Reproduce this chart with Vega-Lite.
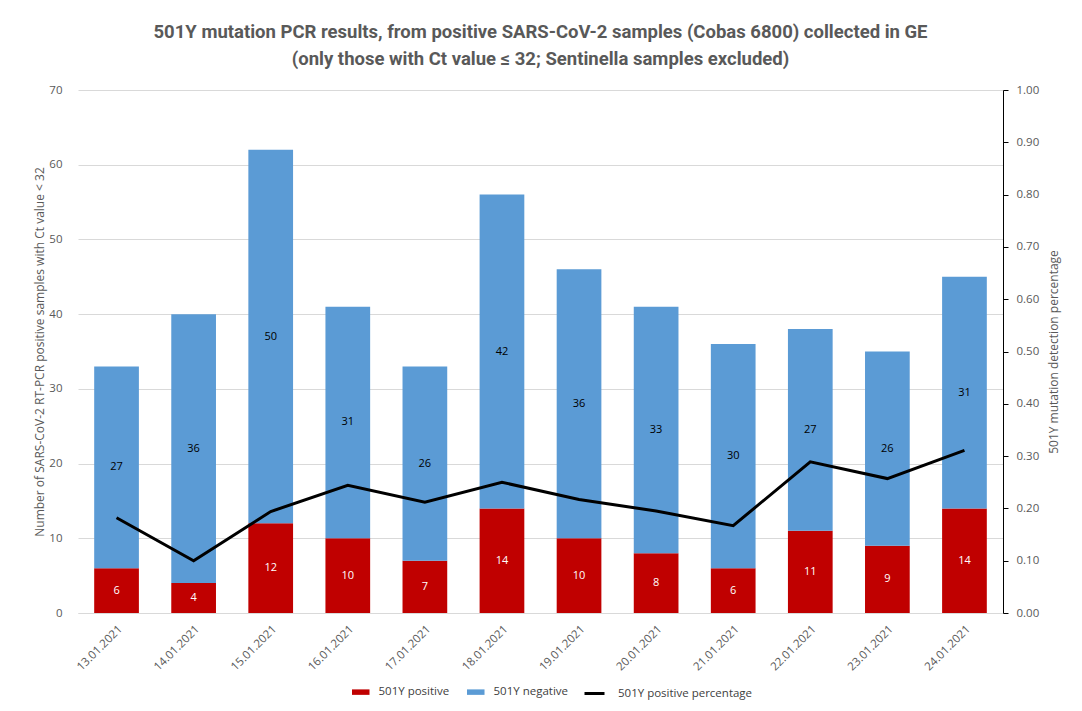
{
  "$schema": "https://vega.github.io/schema/vega-lite/v6.json",
  "width": 925,
  "height": 523,
  "autosize": {"type": "none"},
  "padding": {"left": 78, "top": 90, "right": 79, "bottom": 98},
  "background": "white",
  "config": {
    "font": "Open Sans",
    "view": {"stroke": null},
    "axis": {"labelColor": "#595959", "titleColor": "#595959", "labelFontSize": 11.5, "titleFontSize": 12, "titleFontWeight": "normal", "gridColor": "#d9d9d9"},
    "legend": {"labelColor": "#404040", "labelFontSize": 11.5}
  },
  "title": {
    "text": ["501Y mutation PCR results, from positive SARS-CoV-2 samples (Cobas 6800) collected in GE", "(only those with Ct value ≤ 32; Sentinella samples excluded)"],
    "font": "Roboto",
    "fontSize": 18.5,
    "fontWeight": "bold",
    "color": "#595959",
    "lineHeight": 27,
    "offset": 16,
    "anchor": "middle"
  },
  "datasets": {
    "bars": [
      {"date": "13.01.2021", "type": "501Y positive", "count": 6},
      {"date": "13.01.2021", "type": "501Y negative", "count": 27},
      {"date": "14.01.2021", "type": "501Y positive", "count": 4},
      {"date": "14.01.2021", "type": "501Y negative", "count": 36},
      {"date": "15.01.2021", "type": "501Y positive", "count": 12},
      {"date": "15.01.2021", "type": "501Y negative", "count": 50},
      {"date": "16.01.2021", "type": "501Y positive", "count": 10},
      {"date": "16.01.2021", "type": "501Y negative", "count": 31},
      {"date": "17.01.2021", "type": "501Y positive", "count": 7},
      {"date": "17.01.2021", "type": "501Y negative", "count": 26},
      {"date": "18.01.2021", "type": "501Y positive", "count": 14},
      {"date": "18.01.2021", "type": "501Y negative", "count": 42},
      {"date": "19.01.2021", "type": "501Y positive", "count": 10},
      {"date": "19.01.2021", "type": "501Y negative", "count": 36},
      {"date": "20.01.2021", "type": "501Y positive", "count": 8},
      {"date": "20.01.2021", "type": "501Y negative", "count": 33},
      {"date": "21.01.2021", "type": "501Y positive", "count": 6},
      {"date": "21.01.2021", "type": "501Y negative", "count": 30},
      {"date": "22.01.2021", "type": "501Y positive", "count": 11},
      {"date": "22.01.2021", "type": "501Y negative", "count": 27},
      {"date": "23.01.2021", "type": "501Y positive", "count": 9},
      {"date": "23.01.2021", "type": "501Y negative", "count": 26},
      {"date": "24.01.2021", "type": "501Y positive", "count": 14},
      {"date": "24.01.2021", "type": "501Y negative", "count": 31}
    ],
    "pct": [
      {"date": "13.01.2021", "pct": 0.182},
      {"date": "14.01.2021", "pct": 0.100},
      {"date": "15.01.2021", "pct": 0.194},
      {"date": "16.01.2021", "pct": 0.244},
      {"date": "17.01.2021", "pct": 0.212},
      {"date": "18.01.2021", "pct": 0.250},
      {"date": "19.01.2021", "pct": 0.217},
      {"date": "20.01.2021", "pct": 0.195},
      {"date": "21.01.2021", "pct": 0.167},
      {"date": "22.01.2021", "pct": 0.289},
      {"date": "23.01.2021", "pct": 0.257},
      {"date": "24.01.2021", "pct": 0.311}
    ]
  },
  "encoding": {
    "x": {
      "field": "date",
      "type": "nominal",
      "scale": {
        "domain": ["13.01.2021", "14.01.2021", "15.01.2021", "16.01.2021", "17.01.2021", "18.01.2021", "19.01.2021", "20.01.2021", "21.01.2021", "22.01.2021", "23.01.2021", "24.01.2021"],
        "paddingInner": 0.42,
        "paddingOuter": 0.21
      },
      "axis": {"title": null, "labelAngle": -45, "labelAlign": "right", "labelBaseline": "top", "ticks": false, "domainColor": "#d9d9d9", "labelPadding": 10}
    }
  },
  "layer": [
    {
      "data": {"name": "bars"},
      "transform": [
        {"stack": "count", "groupby": ["date"], "sort": [{"field": "type", "order": "descending"}], "as": ["y0", "y1"]},
        {"calculate": "(datum.y0 + datum.y1) / 2", "as": "mid"}
      ],
      "layer": [
        {
          "mark": {"type": "bar"},
          "encoding": {
            "y": {"field": "y0", "type": "quantitative", "scale": {"domain": [0, 70]},
              "axis": {"title": "Number of SARS-CoV-2 RT-PCR positive samples with Ct value < 32", "values": [0, 10, 20, 30, 40, 50, 60, 70], "domain": false, "ticks": false, "labelPadding": 16, "titlePadding": 2}},
            "y2": {"field": "y1"},
            "color": {"field": "type", "type": "nominal",
              "scale": {"domain": ["501Y positive", "501Y negative"], "range": ["#C00000", "#5B9BD5"]},
              "legend": {"title": null, "orient": "none", "legendX": 277, "legendY": 596, "direction": "horizontal", "symbolType": "M-1.6,-0.5H1.6V0.5H-1.6Z", "symbolSize": 120, "symbolStrokeWidth": 0, "columnPadding": 16, "labelOffset": 12}}
          }
        },
        {
          "mark": {"type": "text", "fontSize": 11, "font": "Open Sans"},
          "encoding": {
            "y": {"field": "mid", "type": "quantitative"},
            "text": {"field": "count", "type": "quantitative"},
            "color": {"condition": {"test": "datum.type === '501Y positive'", "value": "white"}, "value": "black"}
          }
        }
      ]
    },
    {
      "data": {"name": "pct"},
      "mark": {"type": "line", "strokeWidth": 3, "color": "black"},
      "encoding": {
        "y": {"field": "pct", "type": "quantitative", "scale": {"domain": [0, 1]},
          "axis": {"orient": "right", "title": "501Y mutation detection percentage", "titleAngle": 270, "titleBaseline": "top", "format": ".2f", "values": [0, 0.1, 0.2, 0.3, 0.4, 0.5, 0.6, 0.7, 0.8, 0.9, 1.0], "grid": false, "domainColor": "black", "tickColor": "black", "tickSize": 5, "labelPadding": 8, "titlePadding": 10}},
        "stroke": {"datum": "501Y positive percentage", "type": "nominal", "scale": {"range": ["black"]},
          "legend": {"title": null, "orient": "none", "legendX": 505, "legendY": 592, "symbolType": "stroke", "symbolStrokeWidth": 3, "symbolSize": 400, "labelOffset": 12}}
      }
    }
  ],
  "resolve": {"scale": {"y": "independent"}}
}
